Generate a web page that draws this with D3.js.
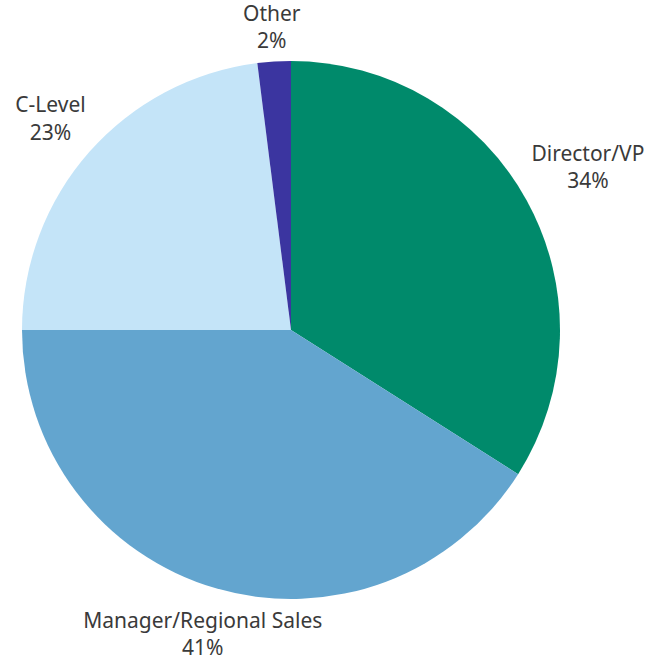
<!DOCTYPE html>
<html>
<head>
<meta charset="utf-8">
<script src="https://cdn.jsdelivr.net/npm/d3@7"></script>
<style>
  body { margin: 0; background: #fff; }
  .label { font-family: "Noto Sans", sans-serif; font-size: 21px; fill: #3a3a3a; }
</style>
</head>
<body>
<script>
const width = 655;
const height = 662;

// data, clockwise from 12 o'clock
const categories = ["Director/VP", "Manager/Regional Sales", "C-Level", "Other"];
const shares = [34, 41, 23, 2];
const colors = ["#008a6b", "#63a5cf", "#c4e4f8", "#3b35a0"];

const cx = 291, cy = 330, radius = 269;
const labelGap = 7;

var svg = d3.select("body")
    .append("svg")
    .attr("width", width)
    .attr("height", height);

var g = svg.append("g").attr("transform", "translate(" + cx + "," + cy + ")");

var data = categories.map((c, i) => ({ name: c, value: shares[i], color: colors[i] }));

var pie = d3.pie().sort(null).value(d => d.value);
var arc = d3.arc().innerRadius(0).outerRadius(radius);
var arcs = pie(data);

g.selectAll("path")
    .data(arcs)
    .enter()
    .append("path")
    .attr("d", arc)
    .attr("fill", d => d.data.color);

//labels: push each box out along the mid-angle until its nearest edge clears the pie
var labels = g.selectAll("text.label")
    .data(arcs)
    .enter()
    .append("text")
    .attr("class", "label")
    .attr("text-anchor", "middle");

labels.append("tspan").attr("x", 0).attr("dy", 0).text(d => d.data.name);
labels.append("tspan").attr("x", 0).attr("dy", "1.3em").text(d => d.data.value + "%");

labels.each(function (d) {
    var bb = this.getBBox();
    var a = (d.startAngle + d.endAngle) / 2;
    var ux = Math.sin(a), uy = -Math.cos(a);
    var bcx = bb.x + bb.width / 2, bcy = bb.y + bb.height / 2;
    function nearest(dist) {
        var x = dist * ux, y = dist * uy;
        var nx = Math.max(x - bb.width / 2, Math.min(0, x + bb.width / 2));
        var ny = Math.max(y - bb.height / 2, Math.min(0, y + bb.height / 2));
        return Math.sqrt(nx * nx + ny * ny);
    }
    var lo = 0, hi = radius * 3;
    for (var k = 0; k < 40; k++) {
        var mid = (lo + hi) / 2;
        if (nearest(mid) < radius + labelGap) lo = mid; else hi = mid;
    }
    var tx = hi * ux - bcx, ty = hi * uy - bcy;
    d3.select(this).attr("transform", "translate(" + tx + "," + ty + ")");
});
</script>
</body>
</html>
